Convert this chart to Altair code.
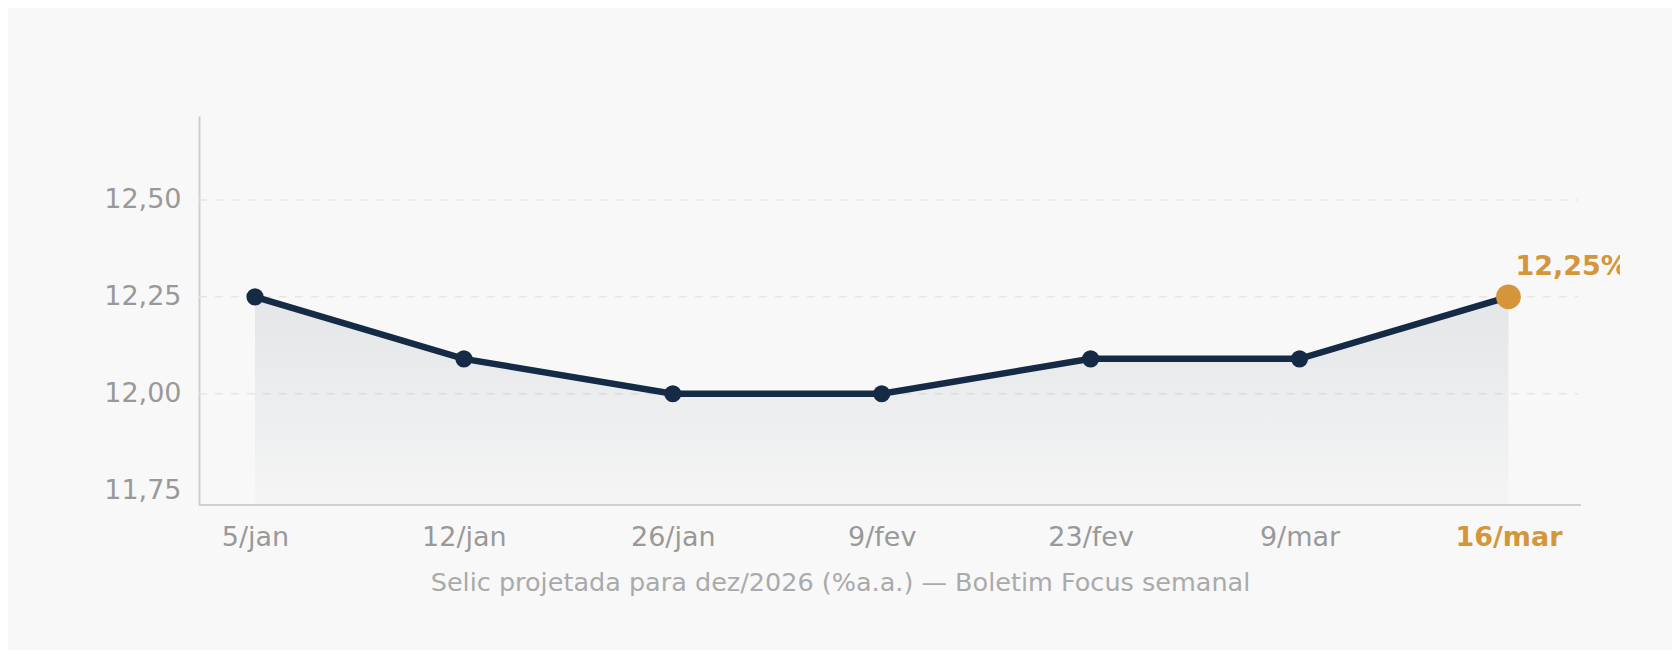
import altair as alt
import pandas as pd

# ---- data ----
dates = ["5/jan", "12/jan", "26/jan", "9/fev", "23/fev", "9/mar", "16/mar"]
selic = [12.25, 12.09, 12.00, 12.00, 12.09, 12.09, 12.25]
grid_values = [12.00, 12.25, 12.50]
y_ticks = [11.75, 12.00, 12.25, 12.50]

df = pd.DataFrame({"i": list(range(len(dates))), "d": dates, "v": selic})
grid_df = pd.DataFrame({"g": grid_values})

NAVY = "#152a45"
ORANGE = "#d4953b"
FONT = "DejaVu Sans"

X_MIN, X_MAX = -0.268, 6.534
X_END = 6.332
Y_MIN, Y_MAX = 11.713, 12.7165

labels_js = "[" + ",".join("'" + d + "'" for d in dates) + "]"
last = len(dates) - 1

x_axis = alt.Axis(
    values=list(range(len(dates))),
    labelExpr=labels_js + "[datum.value]",
    labelColor={"condition": {"test": f"datum.value == {last}", "value": ORANGE}, "value": "#999999"},
    labelFontWeight={"condition": {"test": f"datum.value == {last}", "value": "bold"}, "value": "normal"},
    labelFont=FONT, labelFontSize=27, labelPadding=19,
    ticks=False, domain=False, grid=False,
    title="Selic projetada para dez/2026 (%a.a.) — Boletim Focus semanal",
    titleFont=FONT, titleFontSize=25.5, titleFontWeight="normal", titleColor="#aaaaaa",
    titleX=641, titleY=77, titleBaseline="middle", titleAnchor="middle", titleAlign="center",
)
y_axis = alt.Axis(
    values=y_ticks,
    labelExpr="replace(format(datum.value, '.2f'), '.', ',')",
    labelColor="#999999", labelFont=FONT, labelFontSize=27, labelPadding=18,
    ticks=False, grid=False, domain=True, domainColor="#cfcfcf", domainWidth=2,
    title=None,
)
xs = alt.Scale(domain=[X_MIN, X_MAX], zero=False, nice=False)
ys = alt.Scale(domain=[Y_MIN, Y_MAX], zero=False, nice=False)


def X(f="i:Q"):
    return alt.X(f, scale=xs, axis=x_axis)


def Y(f="v:Q"):
    return alt.Y(f, scale=ys, axis=y_axis)


base = alt.Chart(df)

grid = alt.Chart(grid_df).mark_rule(strokeDash=[8, 8], color="#e6e6e6", strokeWidth=1.5).encode(
    x=alt.X(datum=X_MIN, scale=xs, axis=x_axis),
    x2=alt.datum(X_END),
    y=Y("g:Q"),
)

xline = base.mark_rule(color="#cfcfcf", strokeWidth=2).encode(
    x=alt.X(datum=X_MIN, scale=xs, axis=x_axis),
    x2=alt.datum(X_END + 0.013),
    y=alt.Y(datum=Y_MIN, scale=ys, axis=y_axis),
)

area = base.mark_area(
    color=alt.Gradient(
        gradient="linear",
        stops=[
            alt.GradientStop(color="rgba(21,42,69,0.09)", offset=0),
            alt.GradientStop(color="rgba(21,42,69,0.015)", offset=1),
        ],
        x1=0, x2=0, y1=0, y2=1,
    )
).encode(x=X(), y=Y(), y2=alt.datum(Y_MIN))

line = base.mark_line(color=NAVY, strokeWidth=6.5).encode(x=X(), y=Y())

pts = base.mark_circle(size=295, color=NAVY, opacity=1).encode(x=X(), y=Y()).transform_filter(
    alt.datum.i < last
)
last_pt = base.mark_circle(size=615, color=ORANGE, opacity=1).encode(x=X(), y=Y()).transform_filter(
    alt.datum.i == last
)
label = (
    base.transform_filter(alt.datum.i == last)
    .transform_calculate(lab="replace(format(datum.v, '.2f'), '.', ',') + '%'")
    .mark_text(align="left", baseline="middle", dx=7, dy=-30, font=FONT, fontSize=27,
               fontWeight="bold", color=ORANGE, clip=True)
    .encode(x=X(), y=Y(), text="lab:N")
)

chart = alt.layer(grid, area, xline, line, pts, last_pt, label).properties(
    width=1421,
    height=389,
    autosize=alt.AutoSizeParams(type="none"),
    padding={"left": 191, "top": 108, "right": 52, "bottom": 145},
    background="#f8f8f8",
).configure_view(stroke=None)

chart.save("out.html", embed_options={"renderer": "svg", "actions": False})
